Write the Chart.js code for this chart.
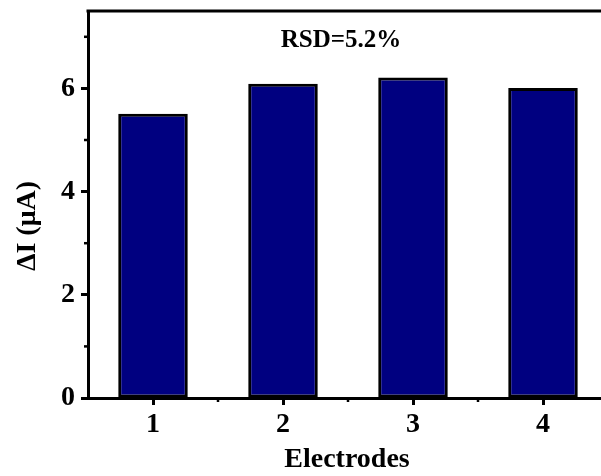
<!DOCTYPE html>
<html><head><meta charset="utf-8">
<script src="https://cdn.jsdelivr.net/npm/chart.js@4/dist/chart.umd.min.js"></script>
<style>
html,body{margin:0;padding:0;overflow:hidden;background:#fff;width:601px;height:476px}
#wrap{position:absolute;left:0;top:0;width:610px;height:476px}
</style>
</head><body><div id="wrap"><canvas id="c" width="610" height="476"></canvas></div>
<script>
const categories = ['1', '2', '3', '4'];
const deltaI = [5.51, 6.09, 6.21, 6.01];
const yTicks = [0, 2, 4, 6];
const yMinorTicks = [1, 3, 5, 7];
const yMax = 7.5;
const xTitle = 'Electrodes';
const yTitle = 'ΔI (μA)';
const annotation = 'RSD=5.2%';

const FONT = "'Liberation Serif', 'Times New Roman', serif";

const decor = {
  id: 'decor',
  afterDraw(chart) {
    const ctx = chart.ctx, a = chart.chartArea;
    const xs = chart.scales.x, ys = chart.scales.y;
    ctx.save();
    ctx.strokeStyle = '#000';
    ctx.lineWidth = 3;
    ctx.beginPath();
    ctx.moveTo(a.left - 1.5, a.top);
    ctx.lineTo(a.right, a.top);
    ctx.lineTo(a.right, a.bottom);
    ctx.stroke();
    ctx.lineWidth = 2.5;
    yMinorTicks.forEach(v => {
      const py = ys.getPixelForValue(v);
      ctx.beginPath(); ctx.moveTo(a.left - 4, py); ctx.lineTo(a.left, py); ctx.stroke();
    });
    for (let i = 0; i < categories.length - 1; i++) {
      const px = xs.getPixelForValue(i + 0.5);
      ctx.beginPath(); ctx.moveTo(px, a.bottom); ctx.lineTo(px, a.bottom + 4); ctx.stroke();
    }
    ctx.fillStyle = '#000';
    ctx.textAlign = 'center';
    ctx.textBaseline = 'middle';
    ctx.font = 'bold 25px ' + FONT;
    ctx.fillText(annotation, 341, a.top + 30);
    ctx.font = 'bold 28px ' + FONT;
    ctx.fillText(xTitle, 347, 460);
    ctx.translate(28, 226);
    ctx.rotate(-Math.PI / 2);
    ctx.fillText(yTitle, 0, 0);
    ctx.restore();
  }
};

new Chart(document.getElementById('c'), {
  type: 'bar',
  data: {
    labels: categories,
    datasets: [{
      data: deltaI,
      backgroundColor: '#000080',
      borderColor: '#000',
      borderWidth: 3,
      borderSkipped: false,
      categoryPercentage: 1,
      barPercentage: 0.535
    }]
  },
  options: {
    responsive: false,
    animation: false,
    layout: { padding: { top: 11, right: 2, left: 0, bottom: 0 } },
    plugins: { legend: { display: false }, tooltip: { enabled: false }, title: { display: false } },
    scales: {
      x: {
        offset: true,
        afterFit(s) { s.height = 78; s.paddingLeft = 0; s.paddingRight = 0; },
        border: { display: true, color: '#000', width: 3 },
        grid: { display: true, offset: false, drawOnChartArea: false, drawTicks: true, tickLength: 7, tickWidth: 3, tickColor: '#000' },
        ticks: { color: '#000', padding: 3, font: { family: FONT, weight: 'bold', size: 28 } }
      },
      y: {
        min: 0, max: yMax,
        afterFit(s) { s.width = 88; s.paddingTop = 0; s.paddingBottom = 0; },
        afterBuildTicks(s) { s.ticks = yTicks.map(v => ({ value: v })); },
        border: { display: true, color: '#000', width: 3 },
        grid: { display: true, drawOnChartArea: false, drawTicks: true, tickLength: 7, tickWidth: 3, tickColor: '#000' },
        ticks: { color: '#000', padding: 6, font: { family: FONT, weight: 'bold', size: 28 } }
      }
    }
  },
  plugins: [decor]
});
</script>
</body></html>
